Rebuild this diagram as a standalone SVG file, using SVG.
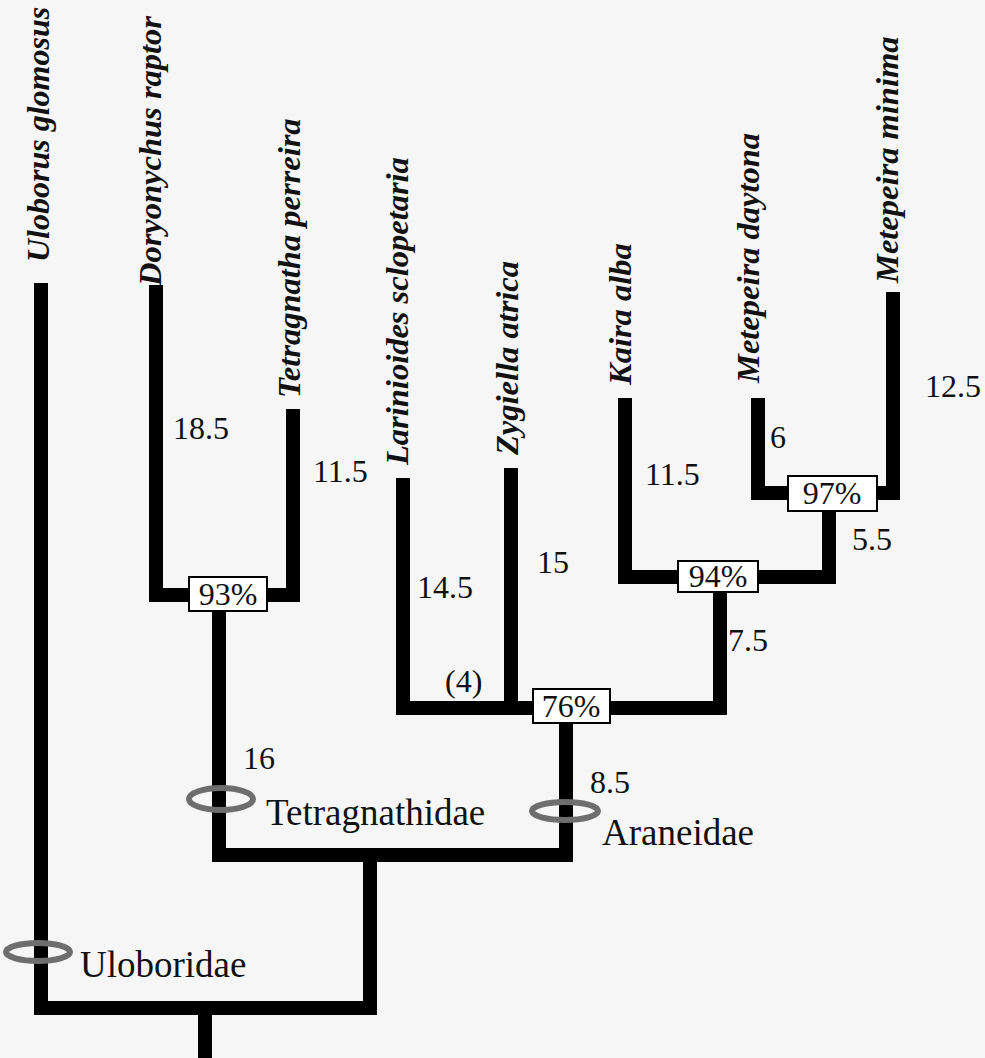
<svg xmlns="http://www.w3.org/2000/svg" width="985" height="1058" viewBox="0 0 985 1058">
<style>
.br{fill:none;stroke:#000;stroke-width:14;stroke-linejoin:miter;stroke-linecap:butt}
.sp{font-family:"Liberation Serif","Times New Roman",serif;font-weight:bold;font-style:italic;font-size:32.5px;fill:#111}
.num{font-family:"Liberation Serif","Times New Roman",serif;font-size:32px;fill:#111}
.fam{font-family:"Liberation Serif","Times New Roman",serif;font-size:37px;fill:#111}
.box{fill:#fff;stroke:#000;stroke-width:2}
.ring{fill:none;stroke:#6e6e6e;stroke-width:6}
</style>
<rect width="985" height="1058" fill="#f6f6f6"/>
<g id="connectors">
<path class="br" d="M41,283 V1008 H370"/>
<path class="br" d="M205,1008 V1058"/>
<path class="br" d="M370,1015 V855"/>
<path class="br" d="M219,595 V855 H566 V708"/>
<path class="br" d="M156,285 V595 H293 V409"/>
<path class="br" d="M403,478 V708 H720 V577"/>
<path class="br" d="M511,468 V708"/>
<path class="br" d="M625,398 V577 H829 V493"/>
<path class="br" d="M758,398 V493 H893 V292"/>
</g>
<g id="taxa">
<text class="sp" style="font-size:32px" transform="translate(49,262) rotate(-90)">Uloborus glomosus</text>
<text class="sp" transform="translate(161,286) rotate(-90)">Doryonychus raptor</text>
<text class="sp" transform="translate(300,398) rotate(-90)">Tetragnatha perreira</text>
<text class="sp" transform="translate(408,465) rotate(-90)">Larinioides sclopetaria</text>
<text class="sp" transform="translate(518,455) rotate(-90)">Zygiella atrica</text>
<text class="sp" transform="translate(631,385) rotate(-90)">Kaira alba</text>
<text class="sp" transform="translate(759,383) rotate(-90)">Metepeira daytona</text>
<text class="sp" transform="translate(898,283) rotate(-90)">Metepeira minima</text>
</g>
<g id="lengths">
<text class="num" x="173" y="439">18.5</text>
<text class="num" x="313" y="482">11.5</text>
<text class="num" x="417" y="598">14.5</text>
<text class="num" x="537" y="573">15</text>
<text class="num" x="445" y="692">(4)</text>
<text class="num" x="645" y="485">11.5</text>
<text class="num" x="770" y="448">6</text>
<text class="num" x="925" y="397">12.5</text>
<text class="num" x="852" y="550">5.5</text>
<text class="num" x="728" y="651">7.5</text>
<text class="num" x="243" y="769">16</text>
<text class="num" x="590" y="793">8.5</text>
</g>
<g id="node-93"><rect class="box" x="189" y="577" width="78" height="34"/><text class="num" x="228" y="605" text-anchor="middle">93%</text></g>
<g id="node-76"><rect class="box" x="533" y="689" width="77" height="34"/><text class="num" x="571" y="717" text-anchor="middle">76%</text></g>
<g id="node-94"><rect class="box" x="678" y="561" width="80" height="31"/><text class="num" x="718" y="587" text-anchor="middle">94%</text></g>
<g id="node-97"><rect class="box" x="788" y="476" width="89" height="35"/><text class="num" x="832" y="504" text-anchor="middle">97%</text></g>
<g id="uloboridae"><ellipse class="ring" cx="38" cy="952" rx="32" ry="9"/><text class="fam" x="80" y="977">Uloboridae</text></g>
<g id="tetragnathidae"><ellipse class="ring" cx="221" cy="799" rx="32" ry="11"/><text class="fam" x="266" y="825">Tetragnathidae</text></g>
<g id="araneidae"><ellipse class="ring" cx="565" cy="811" rx="33" ry="9"/><text class="fam" x="602" y="845">Araneidae</text></g>
</svg>
